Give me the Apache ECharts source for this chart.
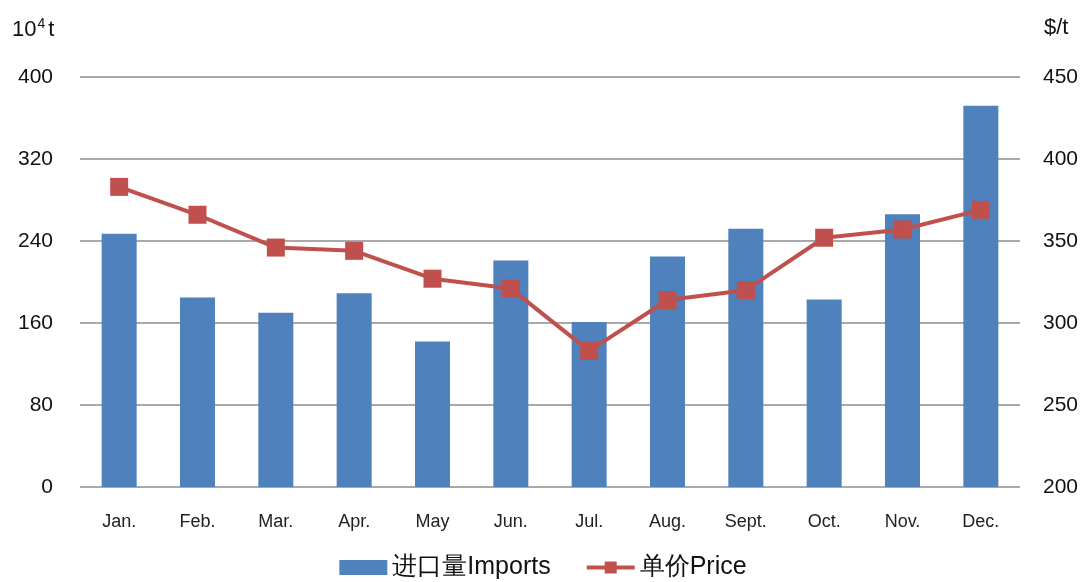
<!DOCTYPE html>
<html><head><meta charset="utf-8">
<script src="https://cdn.jsdelivr.net/npm/echarts@6/dist/echarts.min.js"></script>
<style>html,body{margin:0;padding:0;background:#fff}#c{width:1086px;height:582px}</style>
</head><body><div id="c"></div>
<script>
const categories = ['Jan.','Feb.','Mar.','Apr.','May','Jun.','Jul.','Aug.','Sept.','Oct.','Nov.','Dec.'];
const imports = [247, 185, 170, 189, 142, 221, 161, 225, 252, 183, 266, 372];
const price = [383, 366, 346, 344, 327, 321, 283, 314, 320, 352, 357, 369];
const leftTicks = [0, 80, 160, 240, 320, 400];
const rightTicks = [200, 250, 300, 350, 400, 450];

const chart = echarts.init(document.getElementById('c'));
const font = 'Liberation Sans, Arial, sans-serif';
chart.setOption({
  animation: false,
  textStyle: {fontFamily: font},
  grid: {left: 80, right: 66, top: 77, bottom: 95},
  graphic: [{
    type: 'text', left: 12, top: 17,
    style: {
      text: '{a|10}{s|4}{a|t}',
      rich: {
        a: {fontSize: 22, fill: '#111', fontFamily: font, verticalAlign: 'bottom'},
        s: {fontSize: 14, fill: '#111', fontFamily: font, verticalAlign: 'top', padding: [0, 3, 10, 1]}
      }
    }
  }, {
    type: 'text', left: 1044, top: 17,
    style: {text: '$/t', fontSize: 22, fill: '#111', fontFamily: font}
  }],
  legend: {
    bottom: -3, left: 'center', itemGap: 34, itemWidth: 48, itemHeight: 15,
    textStyle: {fontSize: 25, color: '#111', fontFamily: font},
    data: [{name: '进口量Imports', icon: 'rect'}, {name: '单价Price', lineStyle: {width: 4}}]
  },
  xAxis: {
    type: 'category', data: categories,
    axisLine: {show: false}, axisTick: {show: false},
    axisLabel: {fontSize: 18, color: '#222', margin: 26}
  },
  yAxis: [{
    type: 'value', min: leftTicks[0], max: leftTicks[leftTicks.length-1], interval: 80,
    axisLine: {show: false}, axisTick: {show: false},
    axisLabel: {fontSize: 21, color: '#111', margin: 27},
    splitLine: {lineStyle: {color: '#8c8c8c', width: 1.5}}
  }, {
    type: 'value', min: rightTicks[0], max: rightTicks[rightTicks.length-1], interval: 50,
    axisLine: {show: false}, axisTick: {show: false},
    axisLabel: {fontSize: 21, color: '#111', margin: 23},
    splitLine: {show: false}
  }],
  series: [{
    name: '进口量Imports', type: 'bar', data: imports, barWidth: 35,
    itemStyle: {color: '#4F81BD'}
  }, {
    name: '单价Price', type: 'line', yAxisIndex: 1, data: price,
    symbol: 'rect', symbolSize: 18,
    lineStyle: {color: '#C0504D', width: 4},
    itemStyle: {color: '#C0504D'}
  }]
});
</script></body></html>
